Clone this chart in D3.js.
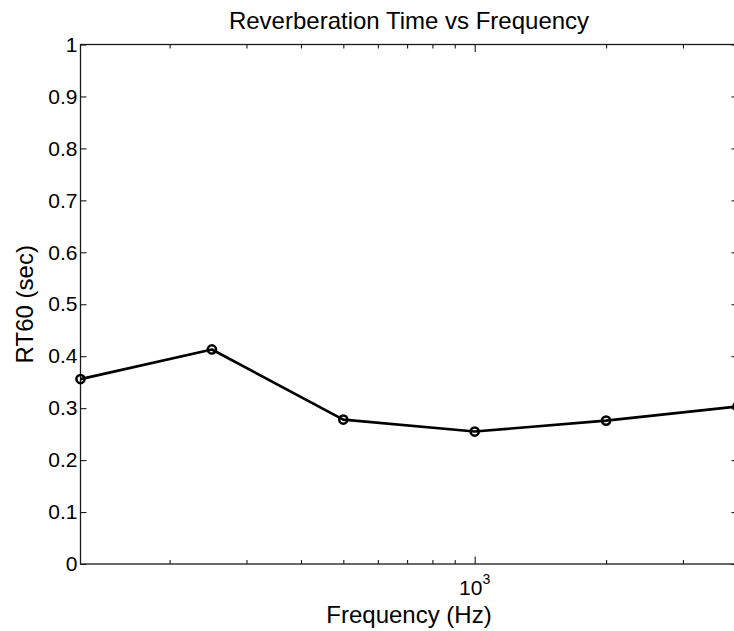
<!DOCTYPE html>
<html>
<head>
<meta charset="utf-8">
<script src="https://cdn.jsdelivr.net/npm/d3@7"></script>
<style>
  html, body { margin: 0; padding: 0; background: #fff; }
  svg { display: block; }
</style>
</head>
<body>
<script>
// ---- data ----
const frequencies = [125, 250, 500, 1000, 2000, 4000];
const rt60 = [0.356, 0.413, 0.278, 0.255, 0.276, 0.303];
const yTickValues = [0, 0.1, 0.2, 0.3, 0.4, 0.5, 0.6, 0.7, 0.8, 0.9, 1];
const yTickLabels = ["0", "0.1", "0.2", "0.3", "0.4", "0.5", "0.6", "0.7", "0.8", "0.9", "1"];
const xMajorTicks = [1000];
const xMinorTicks = [200, 300, 400, 500, 600, 700, 800, 900, 2000, 3000];
const titleText = "Reverberation Time vs Frequency";
const xLabelText = "Frequency (Hz)";
const yLabelText = "RT60 (sec)";

// ---- layout ----
const W = 734, H = 631;
const plotL = 80.5, plotR = 737.5, plotT = 44.5, plotB = 564;
const FONT = "'Liberation Sans', Arial, Helvetica, sans-serif";
const AX = "#1a1a1a";

const svg = d3.select("body").append("svg").attr("width", W).attr("height", H);

const x = d3.scaleLog().domain([125, 4000]).range([plotL, plotR]);
const y = d3.scaleLinear().domain([0, 1]).range([plotB, plotT]);

// frame
svg.append("rect")
  .attr("x", plotL).attr("y", plotT)
  .attr("width", plotR - plotL).attr("height", plotB - plotT)
  .attr("fill", "none").attr("stroke", AX).attr("stroke-width", 1.3);

function styleAxis(g) {
  g.select(".domain").remove();
  g.selectAll(".tick line").attr("stroke", AX).attr("stroke-width", 1.1);
  g.selectAll("text").attr("font-family", FONT).attr("font-size", 21).attr("fill", "#000");
}

// left y axis
svg.append("g").attr("transform", `translate(${plotL},0)`)
  .call(d3.axisLeft(y).tickValues(yTickValues).tickSize(-6).tickPadding(3)
        .tickFormat((d, i) => yTickLabels[i]))
  .call(styleAxis);
// right y axis (ticks only)
svg.append("g").attr("transform", `translate(${plotR},0)`)
  .call(d3.axisRight(y).tickValues(yTickValues).tickSize(-6).tickFormat(""))
  .call(styleAxis);

// bottom x axis
svg.append("g").attr("transform", `translate(0,${plotB})`)
  .call(d3.axisBottom(x).tickValues(xMinorTicks).tickSize(-4).tickFormat(""))
  .call(styleAxis);
svg.append("g").attr("transform", `translate(0,${plotB})`)
  .call(d3.axisBottom(x).tickValues(xMajorTicks).tickSize(-7.5).tickFormat(""))
  .call(styleAxis);
// top x axis
svg.append("g").attr("transform", `translate(0,${plotT})`)
  .call(d3.axisTop(x).tickValues(xMinorTicks).tickSize(-4).tickFormat(""))
  .call(styleAxis);
svg.append("g").attr("transform", `translate(0,${plotT})`)
  .call(d3.axisTop(x).tickValues(xMajorTicks).tickSize(-7.5).tickFormat(""))
  .call(styleAxis);

// 10^3 labels
xMajorTicks.forEach(v => {
  const t = svg.append("text")
    .attr("x", x(v)).attr("y", 595)
    .attr("text-anchor", "middle")
    .attr("font-family", FONT).attr("font-size", 21).attr("fill", "#000");
  t.append("tspan").text("10");
  t.append("tspan").attr("dy", -11).attr("font-size", 14).text(String(Math.round(Math.log10(v))));
});

// line + markers
const pts = frequencies.map((f, i) => [f, rt60[i]]);
svg.append("path")
  .datum(pts)
  .attr("fill", "none").attr("stroke", "#000").attr("stroke-width", 2.7)
  .attr("stroke-linejoin", "round")
  .attr("d", d3.line().x(d => x(d[0])).y(d => y(d[1])));
svg.selectAll("circle.pt").data(pts).enter().append("circle")
  .attr("class", "pt")
  .attr("cx", d => x(d[0])).attr("cy", d => y(d[1]))
  .attr("r", 4.1)
  .attr("fill", "none").attr("stroke", "#000").attr("stroke-width", 2.5);

// title and labels
svg.append("text")
  .attr("x", (plotL + plotR) / 2).attr("y", 29)
  .attr("text-anchor", "middle")
  .attr("font-family", FONT).attr("font-size", 24).attr("fill", "#000")
  .text(titleText);
svg.append("text")
  .attr("x", (plotL + plotR) / 2).attr("y", 623)
  .attr("text-anchor", "middle")
  .attr("font-family", FONT).attr("font-size", 24).attr("fill", "#000")
  .text(xLabelText);
svg.append("text")
  .attr("transform", `translate(33,${(plotT + plotB) / 2}) rotate(-90)`)
  .attr("text-anchor", "middle")
  .attr("font-family", FONT).attr("font-size", 24).attr("fill", "#000")
  .text(yLabelText);
</script>
</body>
</html>
